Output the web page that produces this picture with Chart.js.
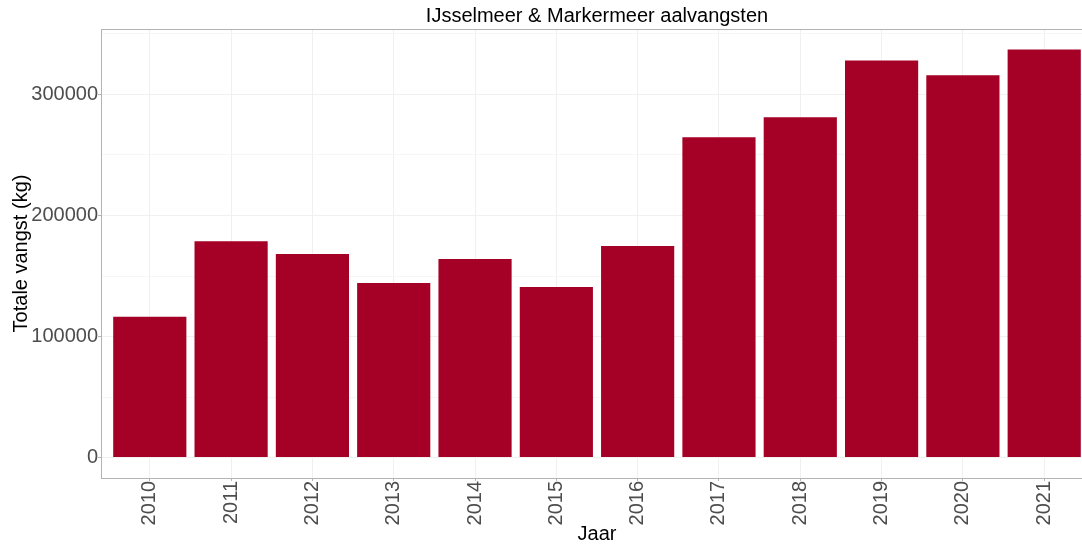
<!DOCTYPE html>
<html>
<head>
<meta charset="utf-8">
<script src="https://cdn.jsdelivr.net/npm/chart.js@4/dist/chart.umd.min.js"></script>
<style>
  html, body { margin: 0; padding: 0; background: #fff; overflow: hidden; }
  #wrap { width: 1093px; height: 546px; }
</style>
</head>
<body>
<div id="wrap"><canvas id="chart" width="1093" height="546"></canvas></div>
<script>
const years  = ['2010','2011','2012','2013','2014','2015','2016','2017','2018','2019','2020','2021']
const catchKg = [116300, 178800, 168200, 144300, 164100, 141000, 174800, 264600, 281100, 328100, 315800, 337200]
const yTicks = [0, 50000, 100000, 150000, 200000, 250000, 300000, 350000]
const yLimits = [-16860, 354060]

const FONT = "'Liberation Sans', Arial, sans-serif"

// ggplot-style panel border (top/left/bottom; right side is off the crop)
const panelBorder = {
  id: 'panelBorder',
  afterDatasetsDraw(chart) {
    const { ctx, chartArea: a } = chart
    ctx.save()
    ctx.strokeStyle = '#b3b3b3'
    ctx.lineWidth = 1
    ctx.strokeRect(a.left + 0.5, a.top + 0.5, a.right - a.left, a.bottom - a.top)
    ctx.restore()
  }
}

const isMajor = v => v % 100000 === 0

new Chart(document.getElementById('chart').getContext('2d'), {
  type: 'bar',
  data: {
    datasets: [{
      data: catchKg.map((v, i) => ({ x: i, y: v })),
      backgroundColor: '#a50026',
      borderWidth: 0,
      barPercentage: 0.9,
      categoryPercentage: 1
    }]
  },
  plugins: [panelBorder],
  options: {
    responsive: false,
    animation: false,
    layout: { padding: 0 },
    plugins: {
      legend: { display: false },
      tooltip: { enabled: false },
      title: {
        display: true,
        text: 'IJsselmeer & Markermeer aalvangsten',
        fullSize: false,
        color: '#000',
        font: { family: FONT, size: 20, weight: 'normal', lineHeight: 1.2 },
        padding: { top: 4, bottom: 1 }
      }
    },
    scales: {
      x: {
        type: 'linear',
        min: -0.6,
        max: 11.6,
        offset: false,
        afterBuildTicks: s => { s.ticks = years.map((_, i) => ({ value: i })) },
        afterFit: s => { s.height = 68 },
        border: { display: false },
        grid: { offset: false, color: '#f0f0f0', lineWidth: 1, tickLength: 3, tickColor: '#b3b3b3' },
        ticks: {
          minRotation: 90, maxRotation: 90, padding: 0, autoSkip: false,
          color: '#4d4d4d', font: { family: FONT, size: 20 },
          callback: v => years[v]
        },
        title: {
          display: true, text: 'Jaar', color: '#000',
          font: { family: FONT, size: 20, lineHeight: 1.2 },
          padding: { top: 0, bottom: 0 }
        }
      },
      y: {
        min: yLimits[0],
        max: yLimits[1],
        afterBuildTicks: s => { s.ticks = yTicks.map(v => ({ value: v })) },
        afterFit: s => { s.width = 101 },
        border: { display: false },
        grid: {
          color: c => isMajor(c.tick.value) ? '#f0f0f0' : '#f6f6f6',
          tickColor: c => isMajor(c.tick.value) ? '#b3b3b3' : 'rgba(0,0,0,0)',
          lineWidth: 1,
          tickLength: 3
        },
        ticks: {
          padding: 0, color: '#4d4d4d', font: { family: FONT, size: 20 },
          callback: v => isMajor(v) ? String(v) : ''
        },
        title: {
          display: true, text: 'Totale vangst (kg)', color: '#000',
          font: { family: FONT, size: 20, lineHeight: 1.2 },
          padding: { top: 9, bottom: 0 }
        }
      }
    }
  }
})
</script>
</body>
</html>
